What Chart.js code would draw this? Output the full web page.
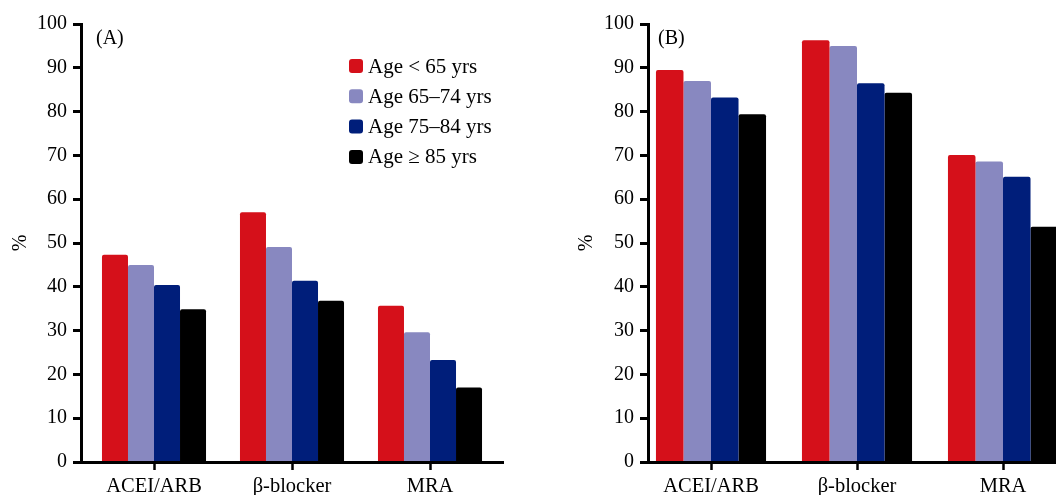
<!DOCTYPE html>
<html>
<head>
<meta charset="utf-8">
<script src="https://cdn.jsdelivr.net/npm/chart.js@4/dist/chart.umd.min.js"></script>
<style>
  body { margin: 0; background: #fff; overflow: hidden; width: 1056px; height: 495px; position: relative; }
  .painel { position: absolute; top: 0; height: 495px; }
  #boxA { left: 0; width: 520px; }
  #boxB { left: 540px; width: 560px; }
</style>
</head>
<body>
<div class="painel" id="boxA"><canvas id="graficoA"></canvas></div>
<div class="painel" id="boxB"><canvas id="graficoB"></canvas></div>
<script>
// categorias e grupos de idade
var categorias = ['ACEI/ARB', 'β-blocker', 'MRA'];
var gruposIdade = ['Age < 65 yrs', 'Age 65–74 yrs', 'Age 75–84 yrs', 'Age ≥ 85 yrs'];

// painel (A)
var aMenos65 = [47.3, 57.0, 35.7];
var a65a74 = [45.0, 49.1, 29.6];
var a75a84 = [40.4, 41.4, 23.3];
var a85mais = [34.9, 36.8, 17.0];

// painel (B)
var bMenos65 = [89.5, 96.3, 70.1];
var b65a74 = [87.0, 95.0, 68.6];
var b75a84 = [83.2, 86.5, 65.1];
var b85mais = [79.4, 84.3, 53.7];

var cores = ['#D5101A', '#8888C0', '#001E7A', '#000000'];
var fonte = '"Liberation Serif", "Times New Roman", serif';

// move o eixo y um pouco (a figura original nao centra os grupos)
var ajusteEixo = {
    id: 'ajusteEixo',
    afterLayout: function(chart, args, opts) {
        var y = chart.scales.y;
        var x = chart.scales.x;
        y.left += opts.dx;
        y.right += opts.dx;
        x.left = y.right;
        if (opts.xRight) x.right = opts.xRight;
    }
};

// letra do painel e legenda desenhadas no canvas
var textos = {
    id: 'textos',
    afterDraw: function(chart, args, opts) {
        var ctx = chart.ctx;
        ctx.save();
        ctx.fillStyle = '#000';
        ctx.textBaseline = 'middle';
        ctx.textAlign = 'left';
        ctx.font = '20px ' + fonte;
        ctx.fillText(opts.letra, opts.letraX, opts.letraY);
        if (opts.legenda) {
            ctx.font = '21px ' + fonte;
            chart.data.datasets.forEach(function(ds, i) {
                var yy = opts.legY + i * 30.3;
                ctx.fillStyle = ds.backgroundColor;
                ctx.beginPath();
                ctx.roundRect(opts.legX, yy - 7, 14, 14, 3);
                ctx.fill();
                ctx.fillStyle = '#000';
                ctx.fillText(ds.label, opts.legX + 19, yy + 1);
            });
        }
        ctx.restore();
    }
};

function grafico(id, series, cfg) {
    new Chart(document.getElementById(id), {
        type: 'bar',
        data: {
            labels: categorias,
            datasets: series.map(function(valores, i) {
                return {
                    label: gruposIdade[i],
                    data: valores,
                    backgroundColor: cores[i],
                    borderWidth: 0,
                    borderRadius: 2,
                    categoryPercentage: 0.754,
                    barPercentage: 1.0
                };
            })
        },
        plugins: [ajusteEixo, textos],
        options: {
            responsive: true,
            maintainAspectRatio: false,
            animation: false,
            layout: { padding: { top: 24, right: cfg.padDir, bottom: 0, left: 0 } },
            plugins: {
                legend: { display: false },
                tooltip: { enabled: false },
                ajusteEixo: { dx: cfg.dx, xRight: cfg.xRight },
                textos: cfg.textos
            },
            scales: {
                x: {
                    offset: true,
                    grid: { display: true, drawOnChartArea: false, offset: false, tickLength: 8, tickWidth: 2.5, tickColor: '#000', color: '#000' },
                    border: { display: true, color: '#000', width: 3, z: 1 },
                    ticks: { color: '#000', padding: 4, font: { family: fonte, size: 20.5 } },
                    afterFit: function(scale) { scale.height = 33; }
                },
                y: {
                    min: 0,
                    max: 100,
                    grid: { display: true, drawOnChartArea: false, tickLength: 8, tickWidth: 3, tickColor: '#000', color: '#000' },
                    border: { display: true, color: '#000', width: 3 },
                    ticks: { stepSize: 10, color: '#000', padding: 6, font: { family: fonte, size: 20 } },
                    title: { display: true, text: '%', color: '#000', padding: { top: cfg.tituloPad, bottom: 0 }, font: { family: fonte, size: 20 } },
                    afterFit: function(scale) { scale.width = cfg.larguraY; }
                }
            }
        }
    });
}

grafico('graficoA', [aMenos65, a65a74, a75a84, a85mais], {
    larguraY: 85, padDir: 21, dx: -4, xRight: 503, tituloPad: 13,
    textos: { letra: '(A)', letraX: 96, letraY: 39, legenda: true, legX: 349, legY: 66 }
});

grafico('graficoB', [bMenos65, b65a74, b75a84, b85mais], {
    larguraY: 98, padDir: 24, dx: 10, xRight: null, tituloPad: 25,
    textos: { letra: '(B)', letraX: 118, letraY: 39, legenda: false }
});
</script>
</body>
</html>
